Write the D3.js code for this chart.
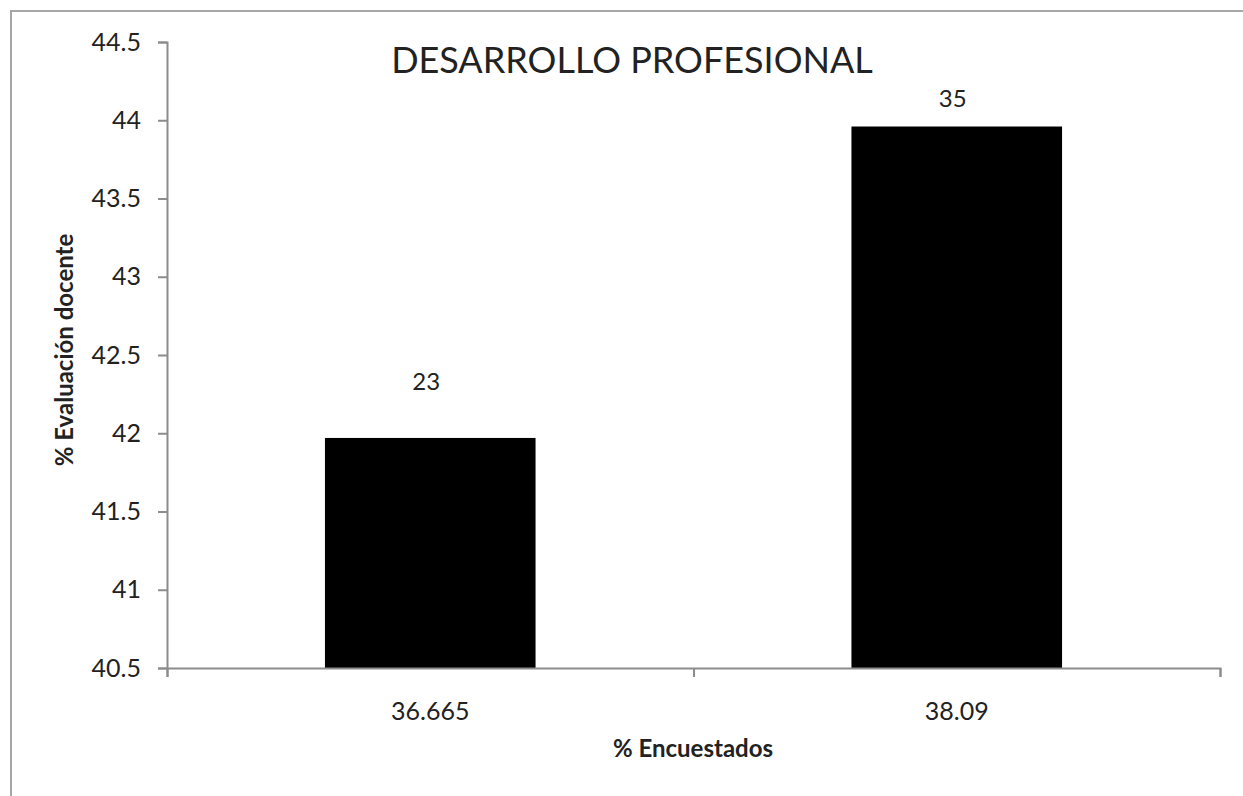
<!DOCTYPE html>
<html>
<head>
<meta charset="utf-8">
<script src="https://cdn.jsdelivr.net/npm/d3@7"></script>
<style>
  body { margin: 0; background: #fff; }
  text { font-family: Lato, "Noto Sans", sans-serif; fill: #222; }
</style>
</head>
<body>
<script>
'use strict';

const width = 1243;
const height = 796;
const paddingLeft = 167;
const paddingRight = 23;
const paddingTop = 42;
const paddingBottom = 128;

// values
let categories = ['36.665', '38.09'];
let values = [41.97, 43.96];
let labels = ['23', '35'];
let yTicks = [40.5, 41, 41.5, 42, 42.5, 43, 43.5, 44, 44.5];
let labelLift = [48, 20];

let svg = d3.select('body').append('svg').attr('width', width).attr('height', height);

// outer chart frame (runs off the right and bottom edges)
svg.append('rect')
    .attr('x', 11).attr('y', 11)
    .attr('width', width + 20).attr('height', height + 20)
    .attr('fill', 'none').attr('stroke', '#a6a6a6').attr('stroke-width', 2);

let xScale = d3.scaleBand()
    .domain(categories)
    .range([paddingLeft, width - paddingRight])
    .paddingInner(0.6)
    .paddingOuter(0.3);

let yScale = d3.scaleLinear()
    .domain([40.5, 44.5])
    .range([height - paddingBottom, paddingTop]);

svg.append('g')
    .selectAll('rect')
    .data(values)
    .join('rect')
    .attr('x', (d, i) => xScale(categories[i]))
    .attr('width', xScale.bandwidth())
    .attr('y', d => yScale(d))
    .attr('height', d => yScale(40.5) - yScale(d))
    .attr('fill', '#000');

svg.append('g')
    .selectAll('text')
    .data(labels)
    .join('text')
    .attr('x', (d, i) => xScale(categories[i]) + xScale.bandwidth() / 2 - 4)
    .attr('y', (d, i) => yScale(values[i]) - labelLift[i])
    .attr('text-anchor', 'middle')
    .style('font-size', '24px')
    .text(d => d);

// y axis
const yAxis = d3.axisLeft(yScale)
    .tickValues(yTicks)
    .tickSize(9)
    .tickPadding(17)
    .tickFormat(d3.format('~g'));

let gy = svg.append('g')
    .attr('transform', 'translate(' + paddingLeft + ',0)')
    .call(yAxis);
gy.select('.domain').attr('stroke', '#8c8c8c').attr('stroke-width', 2);
gy.selectAll('.tick line').attr('stroke', '#8c8c8c').attr('stroke-width', 2);
gy.selectAll('.tick text').style('font-size', '25px').attr('fill', '#222');

// x axis: ticks sit on the category boundaries, labels in the middle
let xBound = d3.scaleLinear().domain([0, categories.length]).range(xScale.range());

const xAxis = d3.axisBottom(xBound)
    .tickValues(d3.range(categories.length + 1))
    .tickSize(9)
    .tickFormat('');

let gx = svg.append('g')
    .attr('transform', 'translate(0,' + (height - paddingBottom) + ')')
    .call(xAxis);
gx.select('.domain').attr('stroke', '#8c8c8c').attr('stroke-width', 2);
gx.selectAll('.tick line').attr('stroke', '#8c8c8c').attr('stroke-width', 2);

svg.append('g')
    .selectAll('text')
    .data(categories)
    .join('text')
    .attr('x', d => xScale(d) + xScale.bandwidth() / 2)
    .attr('y', height - paddingBottom + 52)
    .attr('text-anchor', 'middle')
    .style('font-size', '25px')
    .text(d => d);

// titles
svg.append('text')
    .attr('x', 632)
    .attr('y', 73)
    .attr('text-anchor', 'middle')
    .style('font-size', '36px')
    .text('DESARROLLO PROFESIONAL');

svg.append('text')
    .attr('x', 693)
    .attr('y', 757)
    .attr('text-anchor', 'middle')
    .style('font-size', '24px')
    .style('font-weight', 'bold')
    .text('% Encuestados');

svg.append('text')
    .attr('transform', 'translate(73,350) rotate(-90)')
    .attr('text-anchor', 'middle')
    .style('font-size', '24px')
    .style('font-weight', 'bold')
    .text('% Evaluación docente');
</script>
</body>
</html>
